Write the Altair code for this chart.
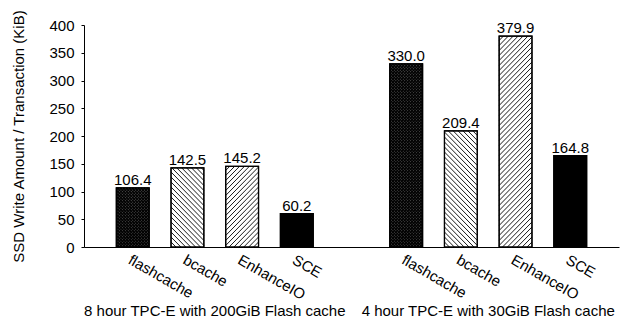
import altair as alt
import pandas as pd

# ---- data ----
systems = ["flashcache", "bcache", "EnhanceIO", "SCE"]
patterns = ["dense", "back", "fwd", "solid"]
groups = ["8 hour TPC-E with 200GiB Flash cache", "4 hour TPC-E with 30GiB Flash cache"]
values_200gib = [106.4, 142.5, 145.2, 60.2]
values_30gib = [330.0, 209.4, 379.9, 164.8]
y_ticks = [0, 50, 100, 150, 200, 250, 300, 350, 400]

# ---- layout constants ----
W, H = 535, 222
XMIN, XMAX = -0.8, 8.8
YMAX = 400
PX = W / (XMAX - XMIN)       # pixels per x unit
PY = H / YMAX                # pixels per y unit
BWU = 0.6                    # bar width in x units
BW = BWU * PX                # bar width in pixels
SP_LINE = 5.0                # hatch spacing (px) for single hatch
SP_DENSE = 3.0               # hatch spacing (px) for cross hatch
FONT = "Liberation Sans, Arial, Helvetica, sans-serif"

rows = []
for gi, vals in enumerate([values_200gib, values_30gib]):
    for si, (name, pat, v) in enumerate(zip(systems, patterns, vals)):
        slot = gi * (len(systems) + 1) + si
        rows.append({"system": name, "pattern": pat, "group": groups[gi],
                     "slot": slot, "value": v})
bars = pd.DataFrame(rows)

slots = list(range(len(systems))) + [len(systems) + 1 + i for i in range(len(systems))]
label_list = systems + [""] + systems
label_expr = "[" + ",".join("'%s'" % s for s in label_list) + "][datum.value]"

gdf = pd.DataFrame({"group": groups,
                    "center": [(len(systems) - 1) / 2 + gi * (len(systems) + 1) for gi in range(2)]})

xscale = alt.Scale(domain=[XMIN, XMAX], nice=False, zero=False)
yscale = alt.Scale(domain=[0, YMAX], nice=False)

base = alt.Chart(bars).transform_calculate(
    x0=f"datum.slot - {BWU/2}", x1=f"datum.slot + {BWU/2}"
)

xaxis = alt.Axis(values=slots, labelExpr=label_expr, ticks=False, grid=False,
                 labelAngle=30, labelAlign="left", labelBaseline="top",
                 labelPadding=5, labelFontSize=15, labelFont=FONT, labelColor="black",
                 domainColor="black", domainWidth=1, labelOverlap=False, labelFlush=False,
                 labelBound=False, title=None)
yaxis = alt.Axis(values=y_ticks, grid=False, tickSize=3, tickColor="black",
                 domainColor="black", labelFontSize=15, labelFont=FONT, labelColor="black",
                 labelPadding=7, labelOverlap=False, title="SSD Write Amount / Transaction (KiB)",
                 titleFont=FONT, titleFontSize=15, titleFontWeight="normal",
                 titleColor="black", titlePadding=22)

fill_scale = alt.Scale(domain=patterns, range=["#555555", "white", "white", "black"])

bar_fill = base.mark_bar(stroke="black", strokeWidth=1.2, orient="vertical").encode(
    x=alt.X("x0:Q", scale=xscale, axis=xaxis),
    x2="x1:Q",
    y=alt.Y("value:Q", scale=yscale, axis=yaxis),
    y2=alt.datum(0),
    fill=alt.Fill("pattern:N", scale=fill_scale, legend=None),
)

hatch = base.transform_filter(
    "datum.pattern != 'solid'"
).transform_calculate(
    dirs="datum.pattern == 'dense' ? ['back', 'fwd'] : [datum.pattern]",
    sp=f"datum.pattern == 'dense' ? {SP_DENSE} : {SP_LINE}",
    hp=f"datum.value * {PY}", ks="sequence(1, 160)"
).transform_flatten(["dirs"]).transform_flatten(["ks"]).transform_calculate(
    c="datum.ks * datum.sp"
).transform_filter(
    f"datum.c < {BW} + datum.hp"
).transform_calculate(
    ua=(f"datum.dirs == 'back' ? max(0, datum.c - datum.hp) "
        f": max(0, -(datum.c - {BW}))"),
    ub=(f"datum.dirs == 'back' ? min({BW}, datum.c) "
        f": min({BW}, datum.hp - (datum.c - {BW}))"),
).transform_calculate(
    wa=f"datum.dirs == 'back' ? datum.c - datum.ua : datum.ua + datum.c - {BW}",
    wb=f"datum.dirs == 'back' ? datum.c - datum.ub : datum.ub + datum.c - {BW}",
).transform_calculate(
    hx1=f"datum.x0 + datum.ua / {PX}", hy1=f"datum.wa / {PY}",
    hx2=f"datum.x0 + datum.ub / {PX}", hy2=f"datum.wb / {PY}",
).mark_rule(color="black").encode(
    x=alt.X("hx1:Q", scale=xscale, axis=xaxis), x2="hx2:Q",
    y=alt.Y("hy1:Q", scale=yscale, axis=yaxis), y2="hy2:Q",
    strokeWidth=alt.condition("datum.pattern == 'dense'", alt.value(1.1), alt.value(0.9)),
)

outline = base.mark_bar(stroke="black", strokeWidth=1.2, fillOpacity=0, orient="vertical").encode(
    x=alt.X("x0:Q", scale=xscale, axis=xaxis), x2="x1:Q",
    y=alt.Y("value:Q", scale=yscale, axis=yaxis), y2=alt.datum(0),
)

value_text = alt.Chart(bars).mark_text(
    baseline="alphabetic", dy=-3, fontSize=15, font=FONT, color="black"
).encode(
    x=alt.X("slot:Q", scale=xscale, axis=xaxis),
    y=alt.Y("value:Q", scale=yscale, axis=yaxis),
    text=alt.Text("value:Q", format=".1f"),
)

group_text = alt.Chart(gdf).mark_text(
    baseline="alphabetic", fontSize=15, font=FONT, color="black"
).encode(
    x=alt.X("center:Q", scale=xscale, axis=xaxis),
    y=alt.value(H + 69),
    text="group:N",
)

chart = alt.layer(bar_fill, hatch, outline, value_text, group_text).properties(
    width=W, height=H,
    autosize=alt.AutoSizeParams(type="none"),
    padding={"left": 84, "top": 25, "right": 632 - 84 - W, "bottom": 322 - 25 - H},
    background="white",
).configure_view(stroke=None)

chart.save("out.html", embed_options={"renderer": "svg", "actions": False})
